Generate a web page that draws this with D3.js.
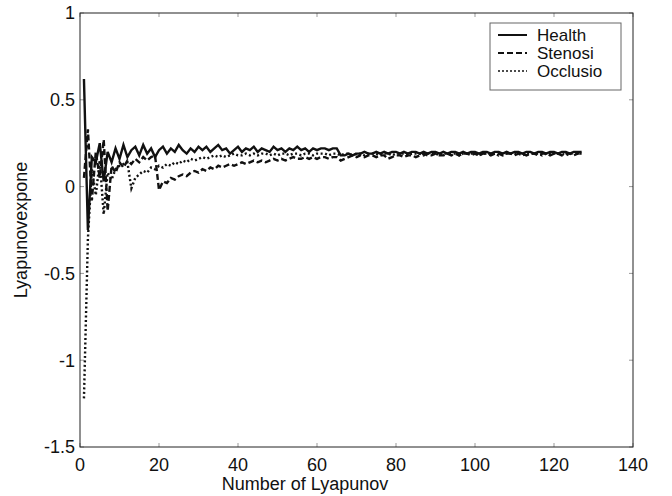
<!DOCTYPE html>
<html>
<head>
<meta charset="utf-8">
<script src="https://cdn.jsdelivr.net/npm/d3@7"></script>
<style>
  body { margin: 0; background: #fff; }
  text { font-family: "Liberation Sans", Arial, Helvetica, sans-serif; fill: #111; }
</style>
</head>
<body>
<script>
// series values, index i -> x = i + 1
let health = [
  0.62, -0.25, 0.17, 0.14, 0.25, 0.03, 0.20, 0.14, 0.22, 0.16,
  0.24, 0.17, 0.21, 0.23, 0.18, 0.24, 0.19, 0.22, 0.17, 0.21,
  0.23, 0.19, 0.22, 0.20, 0.24, 0.21, 0.19, 0.22, 0.20, 0.23,
  0.21, 0.23, 0.20, 0.22, 0.24, 0.21, 0.22, 0.19, 0.21, 0.23,
  0.20, 0.22, 0.21, 0.23, 0.20, 0.22, 0.21, 0.20, 0.23, 0.21,
  0.22, 0.20, 0.22, 0.21, 0.23, 0.21, 0.22, 0.20, 0.22, 0.21,
  0.22, 0.22, 0.21, 0.22, 0.22, 0.18, 0.18, 0.19, 0.18, 0.19,
  0.19, 0.20, 0.19, 0.19, 0.20, 0.19, 0.20, 0.19, 0.20, 0.20,
  0.19, 0.20, 0.19, 0.20, 0.20, 0.19, 0.20, 0.19, 0.20, 0.20,
  0.19, 0.20, 0.19, 0.20, 0.20, 0.19, 0.20, 0.19, 0.20, 0.20,
  0.19, 0.20, 0.20, 0.19, 0.20, 0.20, 0.19, 0.20, 0.19, 0.20,
  0.20, 0.19, 0.20, 0.20, 0.19, 0.20, 0.20, 0.19, 0.20, 0.20,
  0.19, 0.20, 0.20, 0.19, 0.20, 0.20, 0.20
];
let stenosi = [
  0.05, 0.33, -0.08, 0.20, 0.05, 0.27, -0.14, 0.12, 0.08, 0.14,
  0.11, 0.15, 0.13, 0.16, 0.14, 0.17, 0.15, 0.17, 0.18, -0.02,
  0.03, 0.02, 0.05, 0.04, 0.06, 0.07, 0.06, 0.08, 0.09, 0.08,
  0.10, 0.09, 0.11, 0.10, 0.12, 0.11, 0.12, 0.13, 0.12, 0.13,
  0.14, 0.13, 0.14, 0.15, 0.14, 0.15, 0.14, 0.15, 0.16, 0.15,
  0.16, 0.15, 0.16, 0.17, 0.16, 0.16, 0.17, 0.16, 0.17, 0.16,
  0.17, 0.17, 0.16, 0.17, 0.17, 0.15, 0.16, 0.17, 0.18, 0.17,
  0.18, 0.17, 0.18, 0.18, 0.17, 0.18, 0.18, 0.16, 0.17, 0.18,
  0.18, 0.17, 0.18, 0.18, 0.17, 0.18, 0.19, 0.18, 0.18, 0.19,
  0.18, 0.18, 0.19, 0.18, 0.19, 0.18, 0.19, 0.19, 0.18, 0.19,
  0.18, 0.19, 0.19, 0.18, 0.19, 0.19, 0.18, 0.19, 0.19, 0.18,
  0.19, 0.19, 0.18, 0.19, 0.19, 0.18, 0.19, 0.19, 0.18, 0.19,
  0.19, 0.18, 0.19, 0.19, 0.18, 0.19, 0.19
];
let occlusio = [
  -1.22, -0.30, 0.10, -0.05, 0.15, -0.16, 0.08, 0.04, 0.10, 0.12,
  0.13, 0.14, -0.01, 0.05, 0.07, 0.09, 0.08, 0.11, 0.10, 0.12,
  0.11, 0.13, 0.12, 0.14, 0.13, 0.15, 0.14, 0.16, 0.15, 0.16,
  0.17, 0.16, 0.17, 0.18, 0.17, 0.18, 0.17, 0.18, 0.19, 0.18,
  0.18, 0.19, 0.18, 0.19, 0.18, 0.19, 0.19, 0.18, 0.19, 0.18,
  0.19, 0.19, 0.18, 0.19, 0.19, 0.18, 0.19, 0.19, 0.18, 0.19,
  0.19, 0.19, 0.18, 0.19, 0.19, 0.18, 0.19, 0.19, 0.18, 0.19,
  0.19, 0.18, 0.19, 0.19, 0.19, 0.18, 0.19, 0.19, 0.18, 0.19,
  0.19, 0.19, 0.18, 0.19, 0.19, 0.19, 0.18, 0.19, 0.19, 0.19,
  0.18, 0.19, 0.19, 0.19, 0.19, 0.18, 0.19, 0.19, 0.19, 0.19,
  0.18, 0.19, 0.19, 0.19, 0.19, 0.18, 0.19, 0.19, 0.19, 0.19,
  0.19, 0.18, 0.19, 0.19, 0.19, 0.19, 0.18, 0.19, 0.19, 0.19,
  0.19, 0.19, 0.18, 0.19, 0.19, 0.19, 0.19
];
let seriesNames = ["Health", "Stenosi", "Occlusio"];
let dashes = [null, "6,3", "2,2.5"];
let xTicks = [0, 20, 40, 60, 80, 100, 120, 140];
let yTicks = [-1.5, -1, -0.5, 0, 0.5, 1];

let width = 672, height = 496;
let margin = {top: 13, right: 39, bottom: 49, left: 80};

let svg = d3.select("body")
            .append("svg")
            .attr("width", width)
            .attr("height", height);

let x = d3.scaleLinear().domain([0, 140]).range([margin.left, width - margin.right]);
let y = d3.scaleLinear().domain([-1.5, 1]).range([height - margin.bottom, margin.top]);

// inner ticks, all four sides (matlab style)
let tickLen = 4;
let ticks = svg.append("g").style("stroke", "#999").style("stroke-width", 1);
xTicks.forEach(function(t) {
    ticks.append("line").attr("x1", x(t)).attr("x2", x(t))
         .attr("y1", y(-1.5)).attr("y2", y(-1.5) - tickLen);
    ticks.append("line").attr("x1", x(t)).attr("x2", x(t))
         .attr("y1", y(1)).attr("y2", y(1) + tickLen);
});
yTicks.forEach(function(t) {
    ticks.append("line").attr("x1", x(0)).attr("x2", x(0) + tickLen)
         .attr("y1", y(t)).attr("y2", y(t));
    ticks.append("line").attr("x1", x(140)).attr("x2", x(140) - tickLen)
         .attr("y1", y(t)).attr("y2", y(t));
});

// tick labels
svg.append("g").selectAll("text")
   .data(xTicks).enter()
   .append("text")
   .attr("x", d => x(d))
   .attr("y", 471)
   .style("text-anchor", "middle")
   .style("font-size", "18px")
   .text(d => d);

svg.append("g").selectAll("text")
   .data(yTicks).enter()
   .append("text")
   .attr("x", x(0) - 5)
   .attr("y", d => y(d))
   .attr("dy", "0.35em")
   .style("text-anchor", "end")
   .style("font-size", "18px")
   .text(d => d);

// axis titles
svg.append("text")
   .attr("x", 305).attr("y", 490)
   .style("text-anchor", "middle")
   .style("font-size", "18px")
   .text("Number of Lyapunov");

svg.append("text")
   .attr("transform", "translate(27, 230) rotate(-90)")
   .style("text-anchor", "middle")
   .style("font-size", "18px")
   .text("Lyapunovexpone");

// the three curves
let line = d3.line()
             .x((d, i) => x(i + 1))
             .y(d => y(d));

[health, stenosi, occlusio].forEach(function(s, k) {
    svg.append("path")
       .datum(s)
       .style("fill", "none")
       .style("stroke", "#111")
       .style("stroke-width", 2.4)
       .style("stroke-dasharray", dashes[k])
       .attr("d", line);
});

// axes box
svg.append("rect")
   .attr("x", x(0)).attr("y", y(1))
   .attr("width", x(140) - x(0))
   .attr("height", y(-1.5) - y(1))
   .style("fill", "none")
   .style("stroke", "#222")
   .style("stroke-width", 1);

// legend
let legend = svg.append("g").attr("transform", "translate(490, 23)");
legend.append("rect")
      .attr("width", 131).attr("height", 67)
      .style("fill", "#fff")
      .style("stroke", "#666")
      .style("stroke-width", 1);
seriesNames.forEach(function(name, k) {
    let ly = 12 + k * 18;
    legend.append("line")
          .attr("x1", 8).attr("x2", 37)
          .attr("y1", ly).attr("y2", ly)
          .style("stroke", "#111")
          .style("stroke-width", k == 2 ? 1.5 : 2)
          .style("stroke-dasharray", k == 1 ? "6,3" : (k == 2 ? "2,2" : null));
    legend.append("text")
          .attr("x", 47).attr("y", ly)
          .attr("dy", "0.33em")
          .style("font-size", "17px")
          .text(name);
});
</script>
</body>
</html>
